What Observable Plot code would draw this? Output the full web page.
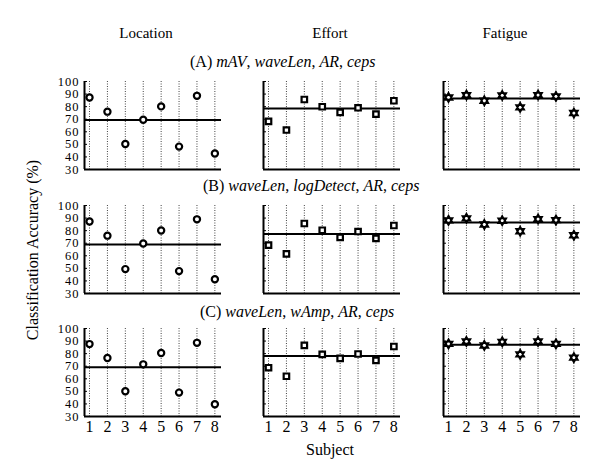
<!DOCTYPE html>
<html><head><meta charset="utf-8">
<script src="https://cdn.jsdelivr.net/npm/d3@7"></script>
<script src="https://cdn.jsdelivr.net/npm/@observablehq/plot@0.6"></script>
<style>
body{margin:0;background:#fff;}
#chart{position:relative;width:600px;height:463px;overflow:hidden;font-family:"Liberation Serif","Times New Roman",Times,"Nimbus Roman","DejaVu Serif",serif;color:#000;background:#fff;}
#chart svg, #chart svg text{font-family:"Liberation Serif","Times New Roman",Times,"Nimbus Roman","DejaVu Serif",serif;}
.lbl{position:absolute;white-space:nowrap;font-size:15px;transform:translate(-50%,-50%);line-height:1;}
.sub{position:absolute;white-space:nowrap;font-size:16px;transform:translate(0,-50%);line-height:1;}
.panel{position:absolute;}
g[aria-label="y-axis tick label"] text{letter-spacing:1px;}
</style></head><body><div id="chart"></div><script>
// ---- data ----
const subjects = [1, 2, 3, 4, 5, 6, 7, 8];
const columns = ["Location", "Effort", "Fatigue"];
const rowTags = ["(A)", "(B)", "(C)"];
const featuresA = ["mAV", "waveLen", "AR", "ceps"];
const featuresB = ["waveLen", "logDetect", "AR", "ceps"];
const featuresC = ["waveLen", "wAmp", "AR", "ceps"];
const yTicks = [30, 40, 50, 60, 70, 80, 90, 100];

const locationA = [87.3, 76.0, 50.3, 69.6, 80.2, 48.2, 88.6, 42.7];
const effortA   = [68.3, 61.4, 85.7, 79.9, 75.4, 79.1, 74.1, 84.7];
const fatigueA  = [87.3, 89.2, 84.7, 88.9, 79.4, 89.2, 88.1, 74.9];
const locationB = [87.3, 76.0, 49.4, 69.8, 80.1, 47.8, 89.0, 41.3];
const effortB   = [68.5, 61.5, 85.7, 80.3, 74.7, 79.3, 73.9, 84.1];
const fatigueB  = [88.2, 89.8, 84.9, 87.9, 79.5, 89.2, 88.4, 76.3];
const locationC = [87.6, 76.5, 50.1, 71.5, 80.5, 49.0, 88.6, 39.8];
const effortC   = [68.8, 62.0, 86.5, 79.4, 76.2, 79.7, 74.6, 85.7];
const fatigueC  = [87.8, 89.7, 86.5, 89.4, 79.4, 89.7, 87.8, 76.8];
const meanLineA = [69.4, 78.6, 86.5];
const meanLineB = [69.0, 77.4, 86.5];
const meanLineC = [69.1, 78.1, 87.1];

// ---- layout ----
const FONT = "'Liberation Serif', 'Times New Roman', Times, 'Nimbus Roman', 'DejaVu Serif', serif";
const chart = document.getElementById("chart");
const colLeft = [84, 263, 443];
const rowTop = [81, 205, 328];
const pw = 137, ph = 88;
const ml = 60, mr = 6, mt = 8, mb = 30;
const xDomain = [0.72, 8.37];
const yDomain = [30, 100];

const hexagram = {
  draw(ctx, size) {
    const r = Math.sqrt(size) * 0.72;
    for (const off of [-Math.PI / 2, Math.PI / 2]) {
      for (let i = 0; i < 3; i++) {
        const a = off + i * 2 * Math.PI / 3;
        const x = r * Math.cos(a), y = r * Math.sin(a);
        if (i === 0) ctx.moveTo(x, y); else ctx.lineTo(x, y);
      }
      ctx.closePath();
    }
  }
};
const symbols = ["circle", "square", hexagram];

const rows = [
  {series: [locationA, effortA, fatigueA], means: meanLineA},
  {series: [locationB, effortB, fatigueB], means: meanLineB},
  {series: [locationC, effortC, fatigueC], means: meanLineC}
];

rows.forEach((row, ri) => {
  row.series.forEach((vals, ci) => {
    const data = subjects.map((s, i) => ({subject: s, acc: vals[i]}));
    const marks = [
      Plot.gridX(subjects, {stroke: "#444", strokeOpacity: 1, strokeWidth: 1, strokeDasharray: "1,1.5"}),
      Plot.tickY(yTicks, {y: d => d, stroke: "#000", strokeWidth: 1, insetRight: pw - 3}),
      Plot.ruleY([row.means[ci]], {stroke: "#000", strokeWidth: 2}),
      Plot.ruleX([xDomain[0]], {stroke: "#000", strokeWidth: 2}),
      Plot.ruleY([yDomain[0]], {stroke: "#000", strokeWidth: 2}),
      Plot.dot(data, {x: "subject", y: "acc", symbol: () => symbols[ci], r: ci === 2 ? 3.6 : 3.1,
        stroke: "#000", strokeWidth: ci === 2 ? 1.8 : 2.2, fill: "#fff"})
    ];
    if (ci === 0) marks.push(Plot.axisY({ticks: yTicks, tickSize: 0, tickPadding: 5, fontSize: 12.5, label: null}));
    if (ri === 2) marks.push(Plot.axisX({ticks: subjects, tickSize: 0, tickPadding: 4, fontSize: 16, label: null}));
    const svg = Plot.plot({
      width: ml + pw + mr, height: mt + ph + mb,
      marginLeft: ml, marginRight: mr, marginTop: mt, marginBottom: mb,
      style: {fontFamily: FONT, color: "#000", background: "transparent", overflow: "visible"},
      x: {domain: xDomain, axis: ri === 2 ? undefined : null},
      y: {domain: yDomain, axis: ci === 0 ? undefined : null},
      marks
    });
    svg.classList.add("panel");
    svg.style.left = (colLeft[ci] - ml) + "px";
    svg.style.top = (rowTop[ri] - mt) + "px";
    chart.appendChild(svg);
  });
});

function addLabel(html, x, y, cls, extra) {
  const d = document.createElement("div");
  d.className = cls;
  d.innerHTML = html;
  d.style.left = x + "px";
  d.style.top = y + "px";
  if (extra) Object.assign(d.style, extra);
  chart.appendChild(d);
}
const colX = [146, 330, 505];
columns.forEach((c, i) => addLabel(c, colX[i], 33, "lbl"));
const featureSets = [featuresA, featuresB, featuresC];
const subX = [190, 203, 200];
const subY = [62, 186, 312];
featureSets.forEach((f, i) => addLabel(rowTags[i] + " " + f.map(s => "<i>" + s + "</i>").join(", "), subX[i], subY[i], "sub"));
addLabel("Subject", 330, 450, "lbl", {fontSize: "16px"});
addLabel("Classification Accuracy (%)", 33, 250, "lbl", {transform: "translate(-50%,-50%) rotate(-90deg)", fontSize: "16px"});
</script></body></html>
